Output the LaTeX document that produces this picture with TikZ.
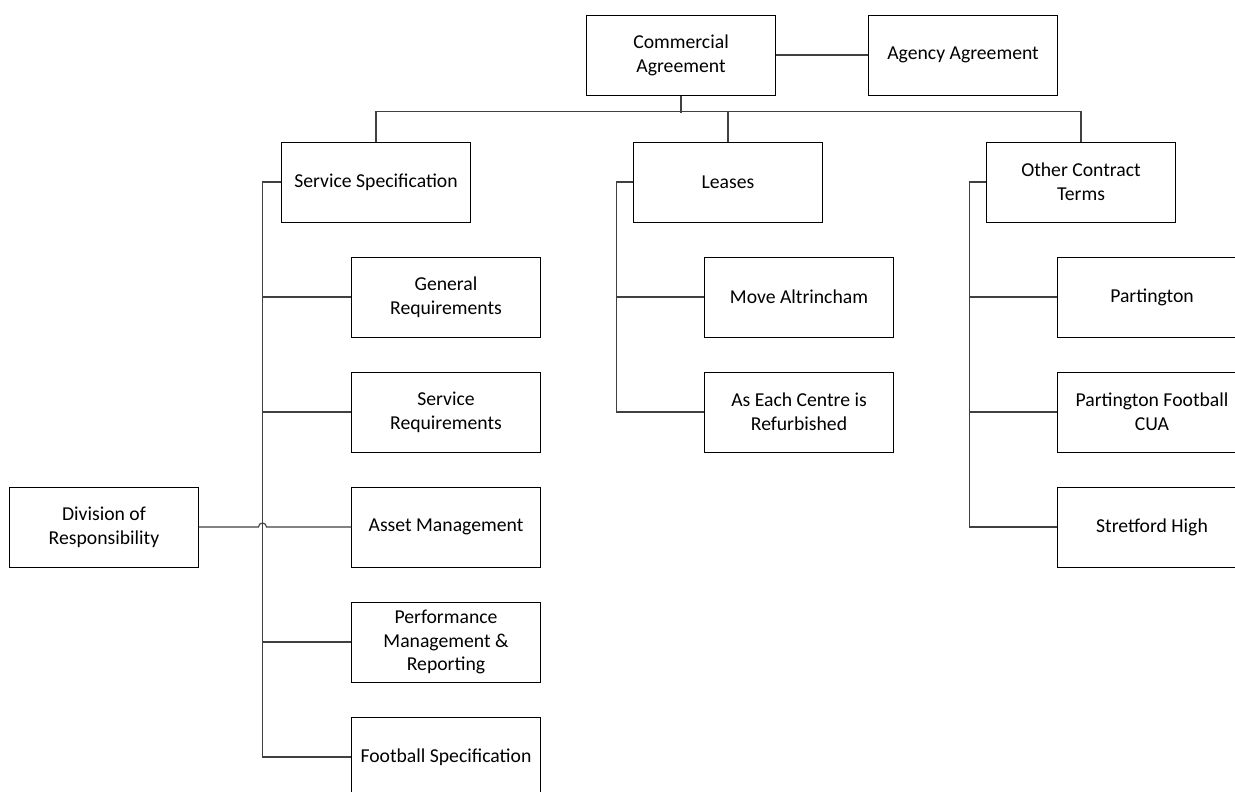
\documentclass[tikz,border=0pt]{standalone}
\usepackage{fontspec}
\setmainfont{Carlito}
\usepackage{tikz}
\usetikzlibrary{calc}

\begin{document}
\begin{tikzpicture}[x=0.025cm,y=-0.025cm,
  box/.style={draw,line width=0.7pt,minimum width=4.7cm,minimum height=2cm,
    align=center,inner sep=2pt,font=\fontsize{14}{17}\selectfont},
  link/.style={draw=black!75,line width=0.8pt}]
\useasboundingbox (0,0) rectangle (1235,791);
\clip (0,0) rectangle (1235,791);

\node[box] (A) at (681,55){Commercial\\Agreement};
\node[box] (B) at (963,55){Agency Agreement};
\node[box] (C) at (376,182){Service Specification};
\node[box] (D) at (728,182){Leases};
\node[box] (E) at (1081,182){Other Contract\\Terms};

\node[box] (F) at (446,297){General\\Requirements};
\node[box] (G) at (446,412){Service\\Requirements};
\node[box] (H) at (446,527){Asset Management};
\node[box] (I) at (446,642){Performance\\Management \&\\Reporting};
\node[box] (J) at (446,757){Football Specification};

\node[box] (K) at (799,297){Move Altrincham};
\node[box] (L) at (799,412){As Each Centre is\\Refurbished};

\node[box] (M) at (1152,297){Partington};
\node[box] (N) at (1152,412){Partington Football\\CUA};
\node[box] (O) at (1152,527){Stretford High};

\node[box] (P) at (104,527){Division of\\Responsibility};

\draw[link] (A) -- (B);

\draw[link] (A.south) -- ++(0,17);
\draw[link] (C.north) -- ++(0,-30) -| (E.north);
\draw[link] (D.north) -- ++(0,-30);

\draw[link] (C.west) -- ++(-19,0) |- (F.west);
\draw[link] (C.west) -- ++(-19,0) |- (G.west);
\draw[link] (C.west) -- ++(-19,0) |- (I.west);
\draw[link] (C.west) -- ++(-19,0) |- (J.west);

\draw[link] (D.west) -- ++(-17,0) |- (K.west);
\draw[link] (D.west) -- ++(-17,0) |- (L.west);

\draw[link] (E.west) -- ++(-17,0) |- (M.west);
\draw[link] (E.west) -- ++(-17,0) |- (N.west);
\draw[link] (E.west) -- ++(-17,0) |- (O.west);

\draw[link] (P.east) -- ($(C.west)+(-23,345)$)
  arc[start angle=180,end angle=0,radius=0.1cm] -- (H.west);
\end{tikzpicture}
\end{document}
